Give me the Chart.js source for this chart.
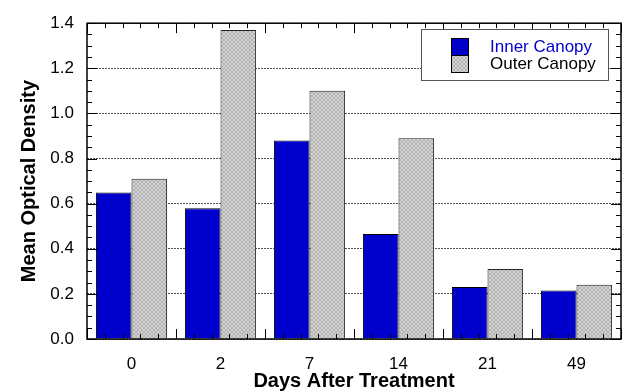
<!DOCTYPE html>
<html>
<head>
<meta charset="utf-8">
<script src="https://cdn.jsdelivr.net/npm/chart.js@4.4.0/dist/chart.umd.min.js"></script>
<style>
  html, body { margin: 0; padding: 0; background: #fff; }
</style>
</head>
<body>
<canvas id="chart" width="623" height="391"></canvas>
<script>
// data
const days = ['0', '2', '7', '14', '21', '49'];
const innerCanopy = [0.65, 0.58, 0.88, 0.465, 0.23, 0.215];
const outerCanopy = [0.71, 1.37, 1.10, 0.89, 0.31, 0.24];
const seriesNames = ['Inner Canopy', 'Outer Canopy'];
const yMax = 1.4;
const yStep = 0.2;

const FONT = '"Liberation Sans", Arial, Helvetica, sans-serif';
Chart.defaults.font.family = FONT;
Chart.defaults.color = '#000';

// fine crosshatch fill for the grey bars
function makeHatch() {
  const c = document.createElement('canvas');
  c.width = 4; c.height = 4;
  const g = c.getContext('2d');
  g.fillStyle = '#d4d4d4';
  g.fillRect(0, 0, 4, 4);
  g.fillStyle = '#b2b2b2';
  for (let i = 0; i < 4; i++) {
    g.fillRect(i, i, 1, 1);
    g.fillRect(3 - i, i, 1, 1);
  }
  return g.createPattern(c, 'repeat');
}

// box, inward ticks on all four sides, and the legend
const frameTicks = {
  id: 'frameTicks',
  afterDatasetsDraw(chart) {
    const { ctx, chartArea: a, scales: { x, y } } = chart;
    ctx.save();
    ctx.strokeStyle = '#000';
    ctx.lineWidth = 1;
    ctx.beginPath();
    // y ticks every 0.05, longer at the labelled ones
    for (let k = 0; k <= Math.round(yMax / 0.05); k++) {
      const py = Math.round(y.getPixelForValue(k * 0.05)) + 0.5;
      const len = k % 4 === 0 ? 10 : 5;
      ctx.moveTo(a.left, py); ctx.lineTo(a.left + len, py);
      ctx.moveTo(a.right, py); ctx.lineTo(a.right - len, py);
    }
    // x ticks: long at category borders, short at fifths
    const n = days.length;
    for (let k = 0; k <= n * 5; k++) {
      const px = Math.round(x.getPixelForValue(k / 5 - 0.5)) + 0.5;
      const len = k % 5 === 0 ? 10 : 5;
      ctx.moveTo(px, a.bottom); ctx.lineTo(px, a.bottom - len);
      ctx.moveTo(px, a.top); ctx.lineTo(px, a.top + len);
    }
    ctx.stroke();
    ctx.lineWidth = 1.5;
    ctx.strokeRect(a.left, a.top, a.right - a.left, a.bottom - a.top);

    // legend
    const bx = 421, by = 29, bw = 187, bh = 51;
    ctx.fillStyle = '#fff';
    ctx.fillRect(bx, by, bw, bh);
    ctx.lineWidth = 1;
    ctx.strokeStyle = '#555';
    ctx.strokeRect(bx + 0.5, by + 0.5, bw, bh);
    ctx.font = '17px ' + FONT;
    ctx.textBaseline = 'middle';
    chart.data.datasets.forEach((ds, i) => {
      const sy = 38 + i * 17;
      ctx.fillStyle = ds.backgroundColor;
      ctx.fillRect(451, sy, 17, 17);
      ctx.strokeStyle = '#000';
      ctx.strokeRect(451.5, sy + 0.5, 17, 17);
      ctx.fillStyle = i === 0 ? '#0000cc' : '#000';
      ctx.fillText(ds.label, 490, sy + 9);
    });
    ctx.restore();
  }
};

const ctx = document.getElementById('chart').getContext('2d');
new Chart(ctx, {
  type: 'bar',
  data: {
    labels: days,
    datasets: [{
      label: seriesNames[0],
      data: innerCanopy,
      backgroundColor: '#0000cc',
      borderColor: '#000',
      borderWidth: 1,
      categoryPercentage: 0.8,
      barPercentage: 1.0
    }, {
      label: seriesNames[1],
      data: outerCanopy,
      backgroundColor: makeHatch(),
      borderColor: '#222',
      borderWidth: 1,
      categoryPercentage: 0.8,
      barPercentage: 1.0
    }]
  },
  options: {
    responsive: false,
    animation: false,
    layout: { padding: { top: 18, right: 2, left: 0, bottom: 0 } },
    plugins: {
      legend: { display: false },
      tooltip: { enabled: false }
    },
    scales: {
      x: {
        grid: { display: false, drawTicks: false },
        border: { display: false },
        ticks: { font: { size: 17 }, padding: 15 },
        title: {
          display: true,
          text: 'Days After Treatment',
          font: { size: 20, weight: 'bold', lineHeight: 1 },
          padding: { top: 0, bottom: 0 }
        },
        afterFit(scale) { scale.height = 52; }
      },
      y: {
        min: 0,
        max: yMax,
        grid: { color: '#555', lineWidth: 1, drawTicks: false },
        border: { display: false, dash: [2, 1] },
        ticks: {
          stepSize: yStep,
          padding: 13,
          font: { size: 17 },
          callback: v => v.toFixed(1)
        },
        title: {
          display: true,
          text: 'Mean Optical Density',
          font: { size: 20, weight: 'bold', lineHeight: 1 },
          padding: { top: 19, bottom: 0 }
        },
        afterFit(scale) { scale.width = 87; }
      }
    }
  },
  plugins: [frameTicks]
});
</script>
</body>
</html>
